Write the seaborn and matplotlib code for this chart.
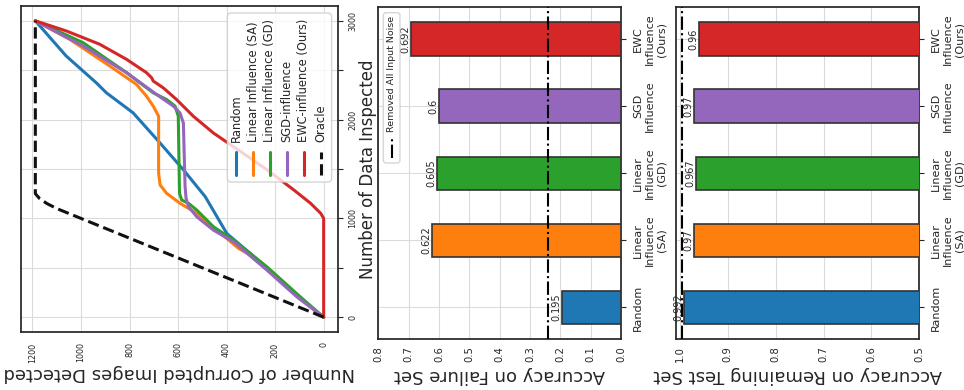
import numpy as np
import pandas as pd
import matplotlib
matplotlib.use("Agg")
import matplotlib.pyplot as plt
import seaborn as sns
from matplotlib.lines import Line2D
from matplotlib.patches import FancyBboxPatch
from matplotlib.ticker import FormatStrFormatter

# ---------------- data ----------------
methods = ["Random", "Linear Influence (SA)", "Linear Influence (GD)",
           "SGD-influence", "EWC-influence (Ours)", "Oracle"]
colors = ["#1f77b4", "#ff7f0e", "#2ca02c", "#9467bd", "#d62728", "#111111"]

random_insp = [0, 186, 441, 644, 847, 1220, 1492, 1763, 2068, 2271, 2373, 2644, 3000]
random_det = [0, 95, 206, 302, 399, 488, 578, 674, 785, 895, 937, 1061, 1188]

sa_insp = [0, 237, 610, 695, 881, 1051, 1153, 1254, 1339, 1458, 2034, 2136, 2237, 2356, 2542, 2814, 3000]
sa_det = [0, 123, 288, 350, 440, 523, 592, 647, 674, 680, 680, 702, 730, 771, 881, 1047, 1188]

gd_insp = [0, 203, 508, 780, 915, 1085, 1153, 1186, 1254, 2034, 2136, 2203, 2271, 2475, 2780, 3000]
gd_det = [0, 95, 233, 371, 454, 523, 557, 585, 594, 599, 612, 647, 702, 812, 992, 1188]

sgd_insp = [0, 203, 475, 763, 881, 1017, 1119, 1203, 1322, 1966, 2068, 2136, 2254, 2475, 2746, 3000]
sgd_det = [0, 109, 233, 371, 454, 523, 557, 567, 571, 578, 592, 619, 688, 812, 992, 1188]

ewc_insp = [0, 1000, 1051, 1153, 1288, 1492, 1678, 1864, 2034, 2203, 2322, 2390, 2424, 2475, 2610, 2763, 2898, 3000]
ewc_det = [0, 0, 12, 54, 123, 233, 343, 454, 537, 606, 661, 702, 709, 730, 812, 923, 1061, 1188]

oracle_insp = [0, 1100, 1150, 1200, 1250, 3000]
oracle_det = [0, 1100, 1140, 1170, 1188, 1188]

bar_cats = ["Random", "Linear\nInfluence\n(SA)", "Linear\nInfluence\n(GD)",
            "SGD\nInfluence", "EWC\nInfluence\n(Ours)"]
failure_acc = [0.195, 0.622, 0.605, 0.6, 0.692]
failure_ref = 0.24
test_acc = [0.992, 0.97, 0.967, 0.97, 0.96]
test_ref = 0.995
ref_label = "Removed All Input Noise"

# ---------------- frames ----------------
series = [(random_insp, random_det), (sa_insp, sa_det), (gd_insp, gd_det),
          (sgd_insp, sgd_det), (ewc_insp, ewc_det), (oracle_insp, oracle_det)]
rows = []
for m, (ins, det) in zip(methods, series):
    for a, b in zip(ins, det):
        rows.append((m, a, b))
curve_df = pd.DataFrame(rows, columns=["method", "inspected", "detected"])
bar_df = pd.DataFrame({"cat": bar_cats, "failure": failure_acc, "test": test_acc})

# ---------------- style ----------------
sns.set_style("whitegrid", {"axes.edgecolor": ".15", "grid.color": ".86"})
plt.rcParams["axes.linewidth"] = 1.25
plt.rcParams["font.family"] = ["DejaVu Sans"]

fig = plt.figure(figsize=(9.64, 3.9), dpi=100)
ax1 = fig.add_axes([0.0218, 0.1487, 0.3288, 0.8359])
ax2 = fig.add_axes([0.3924, 0.1300, 0.2518, 0.8513])
ax3 = fig.add_axes([0.7012, 0.1300, 0.2524, 0.8513])

# ---------------- panel 1 : curves (rotated layout) ----------------
pal = dict(zip(methods, colors))
dashes = {m: "" for m in methods}
dashes["Oracle"] = (3.7, 1.6)
sns.lineplot(data=curve_df, x="detected", y="inspected", hue="method",
             hue_order=methods, palette=pal, style="method", style_order=methods,
             dashes=dashes, sort=False, estimator=None, legend=False,
             linewidth=2.2, ax=ax1)
ax1.set_xlim(1247, -59)
ax1.set_ylim(-150, 3150)
ax1.set_xticks(range(0, 1201, 200))
ax1.set_yticks(range(0, 3001, 500))
ax1.set_yticklabels([str(v) if v % 1000 == 0 else "" for v in range(0, 3001, 500)])
ax1.yaxis.tick_right()
ax1.yaxis.set_label_position("right")
ax1.tick_params(axis="both", labelsize=5.8, labelrotation=90)
ax1.tick_params(axis="x", pad=4)
ax1.tick_params(axis="y", pad=4)
for t in ax1.get_yticklabels():
    t.set_va("center")
ax1.set_xlabel("Number of Corrupted Images Detected", fontsize=13, rotation=180, labelpad=1)
ax1.set_ylabel("Number of Data Inspected", fontsize=12, labelpad=1)

# rotated legend (panel 1)
box = FancyBboxPatch((0.651, 0.460), 0.329, 0.5185,
                     boxstyle="round,pad=0,rounding_size=0.012",
                     mutation_aspect=317 / 326, transform=ax1.transAxes,
                     facecolor="white", edgecolor="0.8", linewidth=1.0,
                     alpha=0.8, zorder=5)
ax1.add_patch(box)
leg_x = [0.678, 0.7328, 0.7855, 0.838, 0.8927, 0.945]
for m, c, lx in zip(methods, colors, leg_x):
    ls = (0, (3.7, 1.6)) if m == "Oracle" else "-"
    ax1.add_line(Line2D([lx, lx], [0.4816, 0.5531], transform=ax1.transAxes,
                        color=c, linewidth=2.2, linestyle=ls, zorder=6))
    ax1.text(lx, 0.5837, m, transform=ax1.transAxes, rotation=90,
             ha="center", va="bottom", fontsize=8.3, zorder=6)

# ---------------- bar panels ----------------
def bar_panel(ax, col, ref, lim, ticks, label, legend):
    sns.barplot(data=bar_df, x=col, y="cat", hue="cat", palette=colors[:5],
                saturation=1, orient="h", width=0.5, edgecolor=".2", linewidth=1.2,
                legend=False, ax=ax, zorder=3)
    ax.set_ylim(-0.475, 4.475)
    ax.set_xlim(*lim)
    ax.set_xticks(ticks)
    ax.xaxis.set_major_formatter(FormatStrFormatter("%.1f"))
    ax.yaxis.grid(True)
    ax.set_axisbelow(True)
    ax.yaxis.tick_right()
    ax.set_yticks(range(len(bar_cats)), labels=bar_cats, rotation=90,
                  va="center", ha="left", multialignment="center", fontsize=8)
    ax.tick_params(axis="y", pad=5)
    ax.tick_params(axis="x", labelsize=7.2, labelrotation=90, pad=1.5)
    ax.set_ylabel("")
    ax.set_xlabel(label, fontsize=13, rotation=180, labelpad=3)
    ax.axvline(ref, color="black", linestyle="-.", linewidth=1.5, zorder=4)
    for i, v in enumerate(bar_df[col]):
        ax.annotate(f"{v}", xy=(v, i), xytext=(-0.5, 0), textcoords="offset points",
                    rotation=90, ha="right", va="center", fontsize=7, zorder=5,
                    annotation_clip=False)
    if legend:
        box = FancyBboxPatch((0.0206, 0.531), 0.0688, 0.4527,
                             boxstyle="round,pad=0,rounding_size=0.012",
                             mutation_aspect=242.7 / 332, transform=ax.transAxes,
                             facecolor="white", edgecolor="0.8", linewidth=1.0,
                             alpha=0.8, zorder=6)
        ax.add_patch(box)
        ax.add_line(Line2D([0.0552, 0.0552], [0.546, 0.603], transform=ax.transAxes,
                           color="black", linewidth=1.5, linestyle="-.", zorder=7))
        ax.text(0.0552, 0.6244, ref_label, transform=ax.transAxes, rotation=90,
                ha="center", va="bottom", fontsize=6.8, zorder=7)

bar_panel(ax2, "failure", failure_ref, (0.8, 0.0), np.arange(0, 0.81, 0.1),
          "Accuracy on Failure Set", True)
bar_panel(ax3, "test", test_ref, (1.0084, 0.5), np.arange(0.5, 1.001, 0.1),
          "Accuracy on Remaining Test Set", False)

fig.savefig("out.png", dpi=100)
